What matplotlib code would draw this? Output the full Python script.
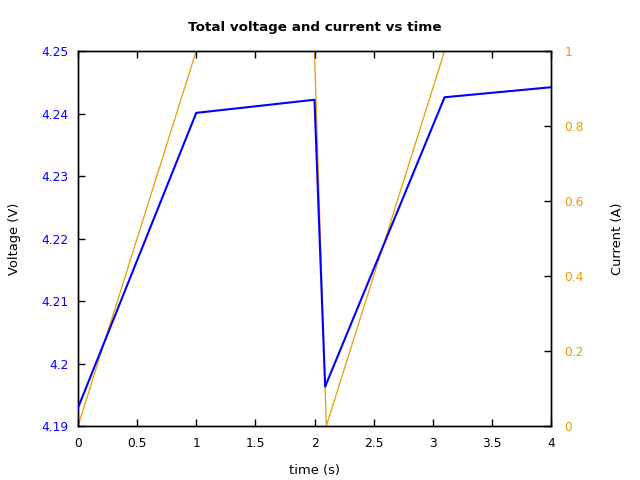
import matplotlib
matplotlib.use("Agg")
import matplotlib.pyplot as plt
from matplotlib.ticker import FuncFormatter

# voltage and current traces
time_v = [0.0, 1.0, 2.0, 2.09, 3.1, 4.0]
voltage = [4.1929, 4.2401, 4.2422, 4.1963, 4.2426, 4.2442]
time_i = [0.0, 1.0, 2.0, 2.1, 3.1, 4.0]
current = [0.0, 1.0, 1.0, 0.0, 1.0, 1.0]

x_ticks = [0, 0.5, 1, 1.5, 2, 2.5, 3, 3.5, 4]
v_ticks = [4.19, 4.20, 4.21, 4.22, 4.23, 4.24, 4.25]
i_ticks = [0, 0.2, 0.4, 0.6, 0.8, 1]

plt.rcParams["font.family"] = ["DejaVu Sans"]
tick_fs = 8.8
label_fs = 9.4

blue = "#0000ff"
orange = "#e69f00"

fig = plt.figure(figsize=(6.4, 4.8), dpi=100)
ax = fig.add_axes([78 / 640, 1 - 426 / 480, 473 / 640, 375 / 480])
ax2 = ax.twinx()

ax2.plot(time_i, current, color=orange, lw=0.9, zorder=1)
ax.plot(time_v, voltage, color=blue, lw=1.5, zorder=3)
ax.set_zorder(ax2.get_zorder() + 1)
ax.patch.set_visible(False)

ax.set_xlim(0, 4)
ax.set_ylim(4.19, 4.25)
ax2.set_ylim(0, 1)
ax.set_xticks(x_ticks)
ax.set_yticks(v_ticks)
ax2.set_yticks(i_ticks)

fmt = FuncFormatter(lambda v, p: f"{v:g}")
ax.xaxis.set_major_formatter(fmt)
ax.yaxis.set_major_formatter(FuncFormatter(lambda v, p: f"{round(v, 4):g}"))
ax2.yaxis.set_major_formatter(fmt)

ax.tick_params(axis="x", direction="in", top=True, length=5, width=1, pad=8,
               labelsize=tick_fs)
ax.tick_params(axis="y", direction="in", right=False, length=5, width=1, pad=6.5,
               labelsize=tick_fs, labelcolor=blue)
ax2.tick_params(axis="y", direction="in", length=5, width=1, pad=9.5,
                labelsize=tick_fs, labelcolor=orange)

for a in (ax, ax2):
    for s in a.spines.values():
        s.set_linewidth(1)

ax.set_xlabel("time (s)", fontsize=label_fs)
ax.xaxis.set_label_coords(0.5, (426 - 464) / 375)
ax.set_ylabel("Voltage (V)", fontsize=label_fs)
ax.yaxis.set_label_coords((21 - 78) / 473, 0.5)
ax2.set_ylabel("Current (A)", fontsize=label_fs)
ax2.yaxis.set_label_coords((611 - 78) / 473, 0.5)

ax.text(0.5, 1 + (51 - 27) / 375, "Total voltage and current vs time",
        transform=ax.transAxes, ha="center", va="center",
        fontsize=9.7, fontweight="bold")

fig.savefig("out.png", dpi=100)
